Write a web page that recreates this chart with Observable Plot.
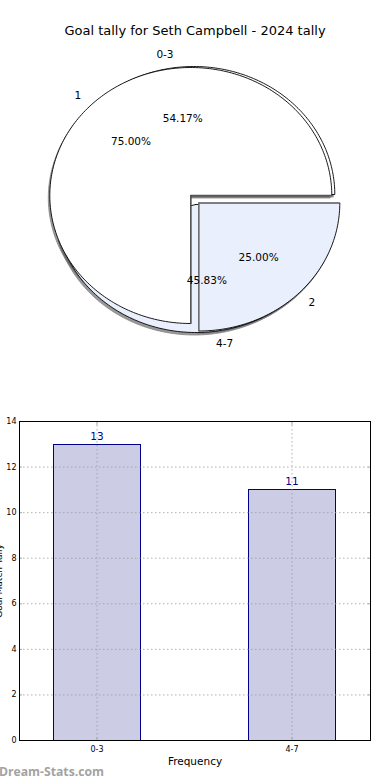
<!DOCTYPE html>
<html><head><meta charset="utf-8">
<script src="https://cdn.jsdelivr.net/npm/d3@7"></script>
<script src="https://cdn.jsdelivr.net/npm/@observablehq/plot@0.6"></script>
<style>
html,body{margin:0;padding:0;background:#fff;overflow:hidden}
#wrap{position:relative;width:390px;height:780px;overflow:hidden}
#pie,#bars{position:absolute;left:0}
#pie{top:0}#bars{top:400px}
#mark{position:absolute;left:-1px;top:763px;font:bold 12.2px "Open Sans",sans-serif;color:#a3a3a3;}
svg{display:block;background:transparent}
</style></head><body>
<div id="wrap"><div id="pie"></div><div id="bars"></div><div id="mark">Dream-Stats.com</div></div>
<script>
const chartTitle = "Goal tally for Seth Campbell - 2024 tally";
const freqCategories = ["0-3","4-7"];
const freqValues = [13,11];
const matchCategories = ["1","2"];
const matchValues = [18,6];
const xLabel = "Frequency";
const yLabel = "Goal Match Tally";
const yTicks = [0,2,4,6,8,10,12,14];
const white = "#ffffff", pale = "#e9effc";

// pie geometry in pie units (1 = radius)
const rx = 141, ry = 128, cx0 = 190.3, cy0 = 195, pieH = 400;
function wedges(labels, values, explode, colors, pieId) {
  const total = d3.sum(values);
  let start = 0;
  return labels.map((label,i)=>{
    const frac = values[i]/total, a0 = start, a1 = start + frac*2*Math.PI;
    start = a1;
    const pts = [{x:explode[i][0], y:explode[i][1]}];
    const n = Math.ceil((a1-a0)/0.02);
    for (let k=0;k<=n;k++){ const t=a0+(a1-a0)*k/n; pts.push({x:explode[i][0]+Math.cos(t), y:explode[i][1]+Math.sin(t)}); }
    const mid=(a0+a1)/2;
    const edge=[pts[1],pts[0],pts[pts.length-1]].map(p=>({...p,id:pieId+label}));
    pts.push(pts[0]);
    return {label, pct:(frac*100).toFixed(2)+"%", mid, ox:explode[i][0], oy:explode[i][1], pts:pts.map(p=>({...p,id:pieId+label})), edge, fill:colors[i]};
  });
}
const pieA = wedges(freqCategories,freqValues,[[3/rx,1/ry],[5/rx,-9/ry]],[white,pale],"a");
const pieB = wedges(matchCategories,matchValues,[[0,0],[8/rx,-7.5/ry]],[white,pale],"b");
const sdx = -1.5/rx, sdy = -2.5/ry;
const shadow = w => Plot.line(w.pts,{x:d=>d.x+sdx,y:d=>d.y+sdy,z:"id",fill:"#444",fillOpacity:.55,stroke:"#888",strokeWidth:.8,curve:"linear"});
const face = w => Plot.line(w.pts,{x:"x",y:"y",z:"id",fill:w.fill,stroke:"#000",strokeWidth:.9,curve:"linear"});
const inner = (w,c,sw) => Plot.line(w.edge,{x:"x",y:"y",z:"id",stroke:c,strokeWidth:sw,curve:"linear"});
const all = [...pieA,...pieB];
const labelMark = (filter,anchor) => Plot.text(all.filter(filter),{
  x:d=>d.ox+1.1*Math.cos(d.mid), y:d=>d.oy+1.1*Math.sin(d.mid), text:"label", textAnchor:anchor,
  fontSize:10.5, fill:"#000", fontFamily:"DejaVu Sans"});

const pie = Plot.plot({
  width:390,height:pieH,margin:0,
  x:{domain:[-cx0/rx,(390-cx0)/rx],range:[0,390],axis:null},
  y:{domain:[(cy0-pieH)/ry,cy0/ry],range:[pieH,0],axis:null},
  style:{background:"transparent",overflow:"visible"},
  marks:[
    ...all.map(shadow),
    ...all.map(face),
    inner(pieB[0],"#555",1.3),
    inner(pieB[1],"#777",1.2),
    labelMark(d=>Math.cos(d.mid)<0,"end"),
    labelMark(d=>Math.cos(d.mid)>=0,"start"),
    Plot.text(all,{x:d=>d.ox+.6*Math.cos(d.mid),y:d=>d.oy+.6*Math.sin(d.mid),text:"pct",fontSize:10.5,fill:"#000",fontFamily:"DejaVu Sans"}),
    Plot.text([chartTitle],{x:()=>4.2/rx,y:()=>(cy0-30)/ry,text:d=>d,fontSize:13,fill:"#000",fontFamily:"DejaVu Sans"})
  ]
});
document.getElementById("pie").append(pie);

const barData = freqCategories.map((c,i)=>({c,v:freqValues[i]}));
const stub = "#aaa";
const bars = Plot.plot({
  width:390,height:380,marginLeft:19,marginRight:20,marginTop:21,marginBottom:40,
  x:{domain:freqCategories,paddingInner:.5538,paddingOuter:.177,align:.4928,round:false,axis:null,label:null},
  y:{domain:[0,14],axis:null,label:null},
  style:{background:"transparent",overflow:"visible",fontFamily:"DejaVu Sans"},
  marks:[
    Plot.barY(barData,{x:"c",y:"v",fill:"#ccccE5",stroke:"#00008b",strokeWidth:1,dx:.4,dy:.3,shapeRendering:"crispEdges"}),
    Plot.ruleY(yTicks,{stroke:"#999",strokeOpacity:.75,strokeWidth:1,strokeDasharray:"1.5,2.5"}),
    Plot.ruleX(freqCategories,{stroke:"#999",strokeOpacity:.75,strokeWidth:1,strokeDasharray:"1.5,2.5"}),
    Plot.axisY({ticks:yTicks,tickSize:-3,tickPadding:6,stroke:stub,fontSize:8,label:null,fill:"#000",textStroke:"none"}),
    Plot.axisY({anchor:"right",ticks:yTicks,tickSize:-3,stroke:stub,tickFormat:()=>"",label:null}),
    Plot.axisX({tickSize:-3,tickPadding:9,stroke:stub,fontSize:8,label:null,fill:"#000"}),
    Plot.axisX({anchor:"top",tickSize:-3,stroke:stub,tickFormat:()=>"",label:null}),
    Plot.frame({stroke:"#000",strokeWidth:1}),
    Plot.text(barData,{x:"c",y:"v",text:"v",dy:-8,fontSize:10.5,fill:"#00008b",fontFamily:"DejaVu Sans"}),
    Plot.text([xLabel],{frameAnchor:"bottom",text:d=>d,dy:24,fontSize:10.5,fill:"#000"}),
    Plot.text([yLabel],{frameAnchor:"left",rotate:-90,textAnchor:"middle",text:d=>d,dx:-20,fontSize:9,fill:"#000"})
  ]
});
document.getElementById("bars").append(bars);
</script>
</body></html>
